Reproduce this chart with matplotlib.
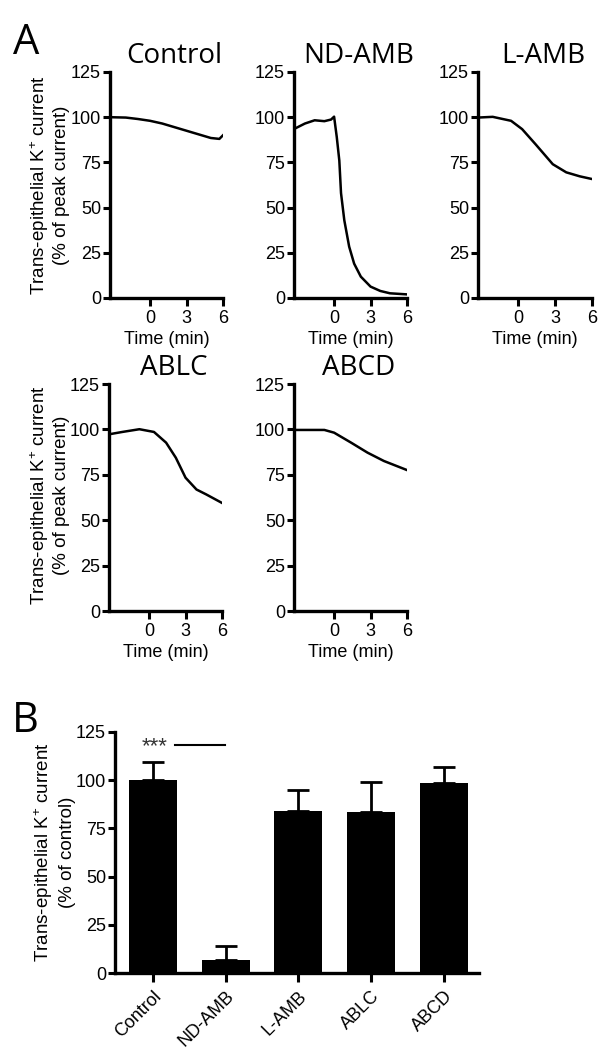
import numpy as np
import matplotlib.pyplot as plt

plt.rcParams['font.family'] = ['Liberation Sans', 'DejaVu Sans']
plt.rcParams['mathtext.fontset'] = 'custom'
plt.rcParams['mathtext.rm'] = 'Liberation Sans'
plt.rcParams['mathtext.default'] = 'regular'

# panel A traces, time (min) vs % of peak current
ctrl_t = [-3.3, -2.0, -1.0, 0.0, 1.0, 2.0, 3.0, 4.0, 5.0, 5.7, 6.0]
ctrl_y = [100, 99.8, 99, 98, 96.5, 94.5, 92.5, 90.5, 88.5, 88, 90]

nd_t = [-3.2, -2.4, -1.6, -0.8, -0.25, 0.0, 0.22, 0.43, 0.57, 0.84, 1.24,
        1.65, 2.2, 3.0, 3.8, 4.6, 6.0]
nd_y = [93.8, 96.5, 98.3, 97.8, 98.7, 100.3, 89, 76, 58, 43, 28.4,
        19, 11.8, 6.3, 3.9, 2.6, 2.0]

lamb_t = [-3.3, -2.1, -0.6, 0.3, 1.4, 2.8, 3.9, 5.0, 6.0]
lamb_y = [99.8, 100.2, 98, 93.4, 85, 74, 69.5, 67.3, 65.8]

ablc_t = [-3.3, -2.2, -0.8, 0.4, 1.4, 2.2, 3.0, 3.9, 4.7, 6.0]
ablc_y = [97.3, 98.6, 100.1, 98.6, 92.7, 84.4, 73.4, 66.9, 64.2, 59.5]

abcd_t = [-3.3, -0.8, 0.0, 1.4, 2.75, 4.1, 6.0]
abcd_y = [99.7, 99.7, 98.2, 92.7, 87.2, 82.6, 77.6]

# panel B summary
groups = ['Control', 'ND-AMB', 'L-AMB', 'ABLC', 'ABCD']
means = [100, 7, 84, 83.5, 98.5]
errs = [9.3, 7, 11, 15.5, 8.5]

title_font = ['Open Sans', 'DejaVu Sans']
ylab1 = 'Trans-epithelial K$^{+}$ current'

fig = plt.figure(figsize=(6.09, 10.5), dpi=100)
W, H = 609.0, 1050.0


def px_axes(x0, y0, x1, y1):
    return fig.add_axes([x0 / W, 1 - y1 / H, (x1 - x0) / W, (y1 - y0) / H])


def style(ax):
    for s in ['top', 'right']:
        ax.spines[s].set_visible(False)
    for s in ['left', 'bottom']:
        ax.spines[s].set_linewidth(2.4)
    ax.tick_params(width=2.2, length=5, labelsize=13, pad=1.5, direction='out')


panels = [
    ('Control', ctrl_t, ctrl_y, (110, 72, 223, 298)),
    ('ND-AMB', nd_t, nd_y, (294, 72, 407, 298)),
    ('L-AMB', lamb_t, lamb_y, (478, 72, 592, 298)),
    ('ABLC', ablc_t, ablc_y, (109, 384, 222, 611)),
    ('ABCD', abcd_t, abcd_y, (294, 384, 407, 611)),
]

for name, t, y, box in panels:
    ax = px_axes(*box)
    ax.plot(t, y, color='black', lw=1.8)
    ax.set_xlim(-3.3, 6)
    ax.set_ylim(0, 125)
    ax.set_xticks([0, 3, 6])
    ax.set_yticks([0, 25, 50, 75, 100, 125])
    style(ax)
    ax.tick_params(axis='x', length=6, pad=3)
    ax.set_xlabel('Time (min)', fontsize=13, labelpad=2.5)
    ax.text(0.57, 1.01, name, transform=ax.transAxes, ha='center', va='bottom',
            fontsize=20, family=title_font)

# y labels for left column of panel A
for yc in [185, 495]:
    fig.text(40 / W, 1 - yc / H, ylab1, rotation=90, ha='center', va='center',
             fontsize=13.5)
    fig.text(61 / W, 1 - yc / H, '(% of peak current)', rotation=90, ha='center',
             va='center', fontsize=13.5)

fig.text(13 / W, 1 - 54 / H, 'A', fontsize=30, family=title_font)
fig.text(12 / W, 1 - 732 / H, 'B', fontsize=30, family=title_font)

# panel B
axb = px_axes(115, 732, 479, 973)
x = np.arange(len(groups))
axb.bar(x, means, width=0.66, color='black')
axb.errorbar(x, means, yerr=[np.zeros(len(errs)), errs], fmt='none', ecolor='black',
             elinewidth=2, capsize=8, capthick=2)
axb.set_xlim(-0.52, 4.48)
axb.set_ylim(0, 125)
axb.set_yticks([0, 25, 50, 75, 100, 125])
axb.set_xticks(x)
axb.set_xticklabels(groups, rotation=45, ha='right', rotation_mode='anchor')
style(axb)
axb.tick_params(axis='x', labelsize=13, length=6.5, pad=4)
axb.text(0.03, 117.5, '***', ha='center', va='center', fontsize=16, color='#333333')
axb.plot([0.3, 0.99], [118.5, 118.5], color='black', lw=1.5)

fig.text(44 / W, 1 - 852 / H, ylab1, rotation=90, ha='center', va='center', fontsize=13.5)
fig.text(67 / W, 1 - 852 / H, '(% of control)', rotation=90, ha='center', va='center',
         fontsize=13.5)

fig.savefig('out.png', dpi=100)
